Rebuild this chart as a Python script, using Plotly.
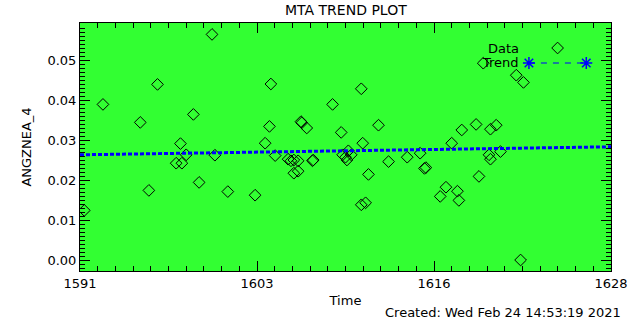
import plotly.graph_objects as go

# Data
time_vals = [1592.6, 1595.2, 1596.4, 1598.9, 1598.0, 1600.2, 1604.3, 1610.6, 1608.6, 1604.2,
             1606.4, 1606.45, 1606.8, 1609.2, 1611.8, 1603.9, 1610.7, 1619.1, 1621.4,
             1621.9, 1617.6, 1618.6, 1619.6, 1620.0, 1616.9, 1591.3, 1595.8, 1597.7, 1598.1,
             1598.4, 1599.3, 1600.4, 1601.3, 1603.2, 1604.6, 1605.5, 1605.7, 1605.9, 1606.2,
             1605.9, 1606.2, 1607.2, 1607.25, 1609.3, 1609.5, 1609.6, 1609.7, 1609.9, 1611.1,
             1610.6, 1610.9, 1612.5, 1613.8, 1614.7, 1615.0, 1615.1, 1619.5, 1619.6, 1620.3,
             1618.8, 1616.5, 1616.1, 1617.3, 1617.4, 1621.7]
angznea_4 = [0.0389, 0.0344, 0.0439, 0.0364, 0.0291, 0.0564, 0.0440, 0.0428, 0.0389, 0.0334,
             0.0346, 0.0343, 0.0330, 0.0319, 0.0337, 0.0292, 0.0292, 0.0492, 0.0462,
             0.0444, 0.0325, 0.0339, 0.0327, 0.0337, 0.0292, 0.0124, 0.0174, 0.0242, 0.0242,
             0.0263, 0.0194, 0.0262, 0.0171, 0.0162, 0.0261, 0.0252, 0.0248, 0.0250, 0.0248,
             0.0217, 0.0222, 0.0248, 0.0250, 0.0263, 0.0257, 0.0250, 0.0273, 0.0263, 0.0214,
             0.0138, 0.0143, 0.0246, 0.0257, 0.0267, 0.0229, 0.0231, 0.0263, 0.0252, 0.0271,
             0.0209, 0.0182, 0.0159, 0.0172, 0.0149, 0.0000]

trend_time = [1591.0, 1628.0]
trend_vals = [0.0263, 0.0283]

x_range = [1591.0, 1628.0]
y_range = [-0.00275, 0.05925]
x_tick_vals = [1591.0, 1591.0 + 37 / 3, 1591.0 + 74 / 3, 1628.0]
x_tick_text = ["1591", "1603", "1616", "1628"]
y_tick_vals = [0.00, 0.01, 0.02, 0.03, 0.04, 0.05]
y_tick_text = ["0.00", "0.01", "0.02", "0.03", "0.04", "0.05"]

FONT = "DejaVu Sans"
GREEN = "rgb(50,255,50)"
BLUE = "rgb(0,0,255)"

L, T, R, B = 80, 23, 617, 271
W, H = 640, 320

fig = go.Figure()
fig.add_trace(go.Scatter(
    x=time_vals, y=angznea_4, mode="markers",
    marker=dict(symbol="diamond-open", size=9, color="black", line=dict(width=1, color="black")),
    showlegend=False,
))
fig.add_trace(go.Scatter(
    x=trend_time, y=trend_vals, mode="lines",
    line=dict(color=BLUE, width=3, dash="4px,2px"),
    showlegend=False,
))

axis_common = dict(
    showgrid=False, zeroline=False, showline=True, linecolor="black", linewidth=1,
    mirror="ticks", ticks="inside", ticklen=10, tickcolor="black", tickwidth=1,
    tickfont=dict(family=FONT, size=13, color="black"),
)
fig.update_xaxes(
    range=x_range, tickmode="array", tickvals=x_tick_vals, ticktext=x_tick_text,
    minor=dict(ticks="inside", ticklen=5, tickcolor="black", tick0=1591.0, dtick=37 / 30, showgrid=False),
    title=dict(text="Time", font=dict(family=FONT, size=13, color="black"), standoff=6),
    **axis_common,
)
fig.update_yaxes(
    range=y_range, tickmode="array", tickvals=y_tick_vals, ticktext=y_tick_text,
    minor=dict(ticks="inside", ticklen=5, tickcolor="black", tick0=0, dtick=0.001, showgrid=False),
    title=dict(text="ANGZNEA_4", font=dict(family=FONT, size=13, color="black"), standoff=12),
    **axis_common,
)

# Legend drawn in the IDL style (paper coordinates, from page pixels)
def px2paper_x(px):
    return (px - L) / (R - L)

def px2paper_y(py):
    return (B - py) / (B - T)

annotations = [
    dict(text="MTA TREND PLOT", x=0.5, y=1.0, xref="paper", yref="paper", yshift=13,
         xanchor="center", yanchor="middle", showarrow=False,
         font=dict(family=FONT, size=14, color="black")),
    dict(text="Data", x=px2paper_x(526), y=px2paper_y(48), xref="paper", yref="paper",
         xanchor="right", yanchor="middle", showarrow=False,
         font=dict(family=FONT, size=13, color="black")),
    dict(text="Trend", x=px2paper_x(526), y=px2paper_y(63), xref="paper", yref="paper",
         xanchor="right", yanchor="middle", showarrow=False,
         font=dict(family=FONT, size=13, color="black")),
    dict(text="Created: Wed Feb 24 14:53:19 2021", x=1.0, y=0, xref="paper", yref="paper",
         xanchor="right", yanchor="middle", xshift=12, yshift=-41, showarrow=False,
         font=dict(family=FONT, size=13, color="black")),
]

shapes = [
    dict(type="line", xref="paper", yref="paper",
         x0=px2paper_x(534), x1=px2paper_x(592), y0=px2paper_y(63), y1=px2paper_y(63),
         line=dict(color=BLUE, width=1, dash="6px,6px")),
]
fig.add_trace(go.Scatter(
    x=[px2paper_x(534), px2paper_x(592)], y=[px2paper_y(63)] * 2, xaxis="x2", yaxis="y2",
    mode="markers",
    marker=dict(symbol="asterisk-open", size=10, color=BLUE, line=dict(width=1.5, color=BLUE)),
    showlegend=False, hoverinfo="skip",
))
fig.add_trace(go.Scatter(
    x=[px2paper_x(563)], y=[px2paper_y(48)], xaxis="x2", yaxis="y2", mode="markers",
    marker=dict(symbol="diamond-open", size=9, color="black", line=dict(width=1, color="black")),
    showlegend=False, hoverinfo="skip",
))
fig.update_layout(
    xaxis2=dict(domain=[0, 1], range=[0, 1], visible=False, overlaying="x", anchor="y2"),
    yaxis2=dict(domain=[0, 1], range=[0, 1], visible=False, overlaying="y", anchor="x2"),
)

fig.update_layout(
    width=W, height=H,
    margin=dict(l=L, r=W - R, t=T, b=H - B),
    paper_bgcolor="white", plot_bgcolor=GREEN,
    annotations=annotations, shapes=shapes,
    font=dict(family=FONT, size=13, color="black"),
    showlegend=False,
)

fig.write_html("out.html", config={"displayModeBar": False},
               post_script="document.body.style.margin='0px';")
